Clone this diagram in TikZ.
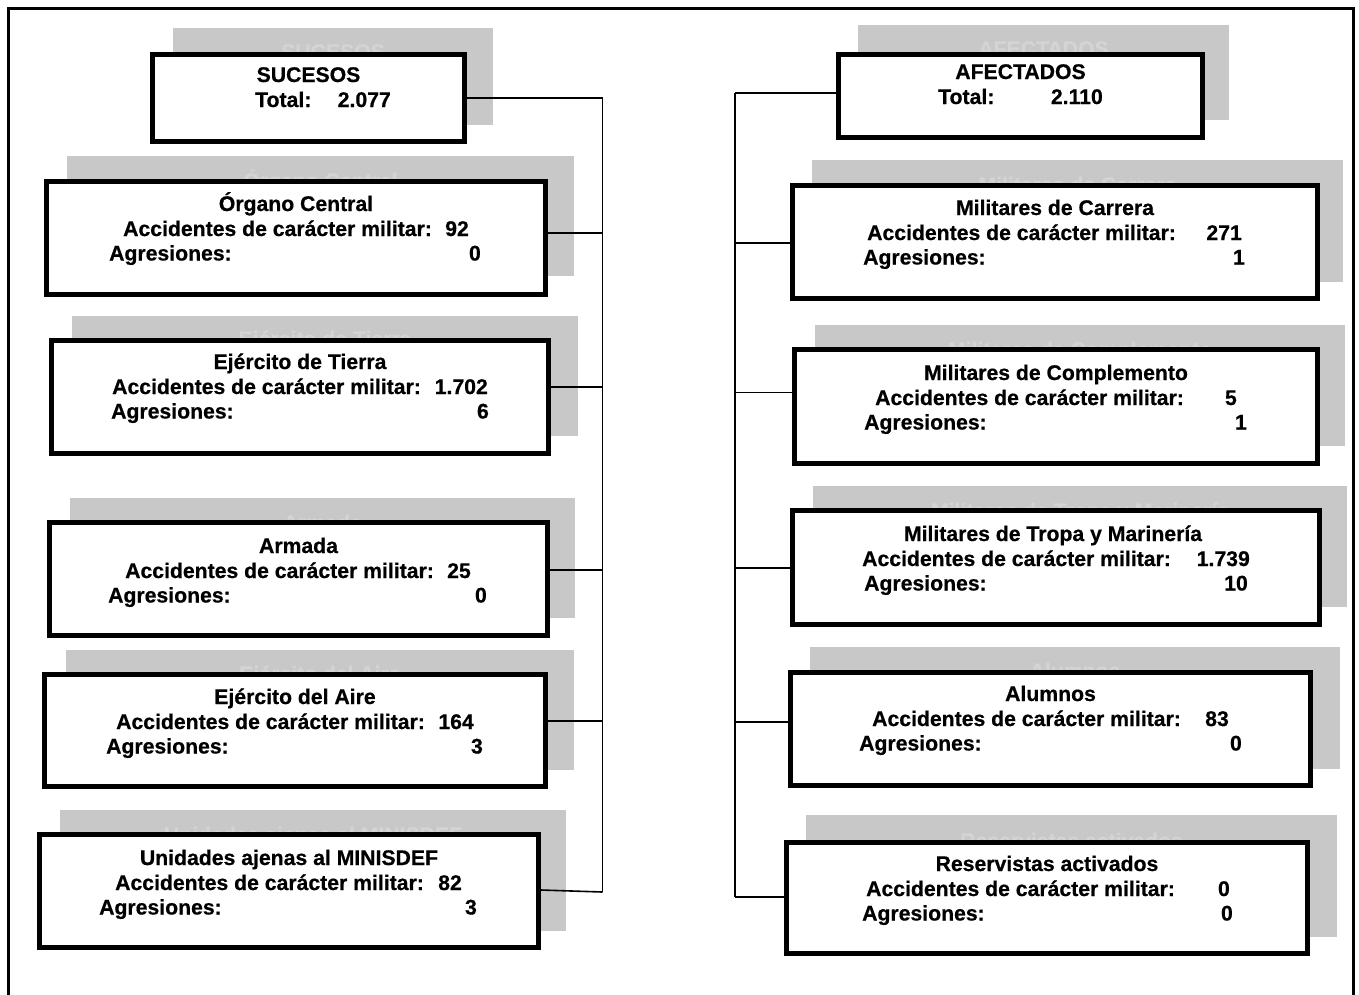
\documentclass[tikz,border=0pt]{standalone}
\usepackage{fontspec}
\setmainfont{Liberation Sans}[BoldFeatures={FakeBold=0.6}]
\definecolor{shadowc}{RGB}{200,200,200}
\definecolor{ghostc}{RGB}{212,212,212}
\newcommand\rows[8]{%
  \node[txt, anchor=base west] (#1-a) at (#3,#2+25) {Accidentes de carácter militar:};
  \node[txt, anchor=base east] (#1-an) at (#4,#2+25) {#5};
  \node[txt, anchor=base west] (#1-g) at (#6,#2+49.5) {Agresiones:};
  \node[txt, anchor=base east] (#1-gn) at (#7,#2+49.5) {#8};
}
\begin{document}
\begin{tikzpicture}[x=1pt,y=-1pt,
  mainbox/.style={draw=black, line width=5pt, fill=white, inner sep=0pt, outer sep=2.5pt},
  txt/.style={font=\fontsize{21.2}{25}\selectfont\bfseries, inner sep=0pt, anchor=base},
  ghost/.style={txt, text=ghostc},
  wire/.style={line width=1.6pt},
  frame/.style={line width=3pt}]
\useasboundingbox (0,0) rectangle (1359,994);
\fill[white] (0,0) rectangle (1359,994);
% outer frame
\coordinate (fbl) at (8.5,1000);
\coordinate (ftl) at (8.5,8.5);
\coordinate (ftr) at (1353.5,8.5);
\coordinate (fbr) at (1353.5,1000);
\draw[frame] (fbl) -- (ftl) -- (ftr) -- (fbr);

% ===== LEFT COLUMN =====
% SUCESOS
\fill[shadowc] (173,28) rectangle (493,125);
\node[ghost] (suc-gh) at (333,59) {SUCESOS};
\node[mainbox, minimum width=312pt, minimum height=87pt] (suc) at (308.5,98) {};
\node[txt] (suc-t) at (308.5,82) {SUCESOS};
\node[txt, anchor=base west] (suc-l) at (255,107) {Total:};
\node[txt, anchor=base east] (suc-n) at (391,107) {2.077};

% Organo Central
\fill[shadowc] (67,156) rectangle (574,276);
\node[ghost] (org-gh) at (320.5,188) {Órgano Central};
\node[mainbox, minimum width=499pt, minimum height=113pt] (org) at (296,238) {};
\node[txt] (org-t) at (296,211) {Órgano Central};
\rows{org}{211}{123}{469}{92}{109}{481}{0}

% Ejercito de Tierra
\fill[shadowc] (72,316) rectangle (578,436);
\node[ghost] (tie-gh) at (325,346) {Ejército de Tierra};
\node[mainbox, minimum width=497pt, minimum height=113pt] (tie) at (300,397) {};
\node[txt] (tie-t) at (300,369) {Ejército de Tierra};
\rows{tie}{369}{112}{488}{1.702}{111}{489}{6}

% Armada
\fill[shadowc] (70,498) rectangle (575,618);
\node[ghost] (arm-gh) at (322.5,530) {Armada};
\node[mainbox, minimum width=498pt, minimum height=113pt] (arm) at (298.5,579) {};
\node[txt] (arm-t) at (298.5,553) {Armada};
\rows{arm}{553}{125}{471}{25}{108}{487}{0}

% Ejercito del Aire
\fill[shadowc] (66,650) rectangle (574,770);
\node[ghost] (air-gh) at (320,681) {Ejército del Aire};
\node[mainbox, minimum width=501pt, minimum height=112pt] (air) at (295,730.5) {};
\node[txt] (air-t) at (295,704) {Ejército del Aire};
\rows{air}{704}{116}{474}{164}{106}{483}{3}

% Unidades ajenas
\fill[shadowc] (60,810) rectangle (566,931);
\node[ghost] (uni-gh) at (313,842) {Unidades ajenas al MINISDEF};
\node[mainbox, minimum width=499pt, minimum height=113pt] (uni) at (289,891) {};
\node[txt] (uni-t) at (289,865) {Unidades ajenas al MINISDEF};
\rows{uni}{865}{115}{462}{82}{99}{477}{3}

% left bus
\coordinate (lb1) at (602.5,98);
\coordinate (lb2) at (602.5,233);
\coordinate (lb3) at (602.5,387);
\coordinate (lb4) at (602.5,570);
\coordinate (lb5) at (602.5,721);
\coordinate (lb6) at (602.5,892);
\coordinate (ua) at (541,890);
\draw[wire] (lb1) -- (lb6);
\draw[wire] (suc.east |- lb1) -- (lb1);
\draw[wire] (org.east |- lb2) -- (lb2);
\draw[wire] (tie.east |- lb3) -- (lb3);
\draw[wire] (arm.east |- lb4) -- (lb4);
\draw[wire] (air.east |- lb5) -- (lb5);
\draw[wire] (uni.east |- ua) -- (lb6);

% ===== RIGHT COLUMN =====
% AFECTADOS
\fill[shadowc] (858,25) rectangle (1229,120);
\node[ghost] (afe-gh) at (1043.5,56) {AFECTADOS};
\node[mainbox, minimum width=364pt, minimum height=83pt] (afe) at (1020.5,96) {};
\node[txt] (afe-t) at (1020.5,79) {AFECTADOS};
\node[txt, anchor=base west] (afe-l) at (938,104) {Total:};
\node[txt, anchor=base east] (afe-n) at (1103,104) {2.110};

% Militares de Carrera
\fill[shadowc] (812,160) rectangle (1343,282);
\node[ghost] (car-gh) at (1077.5,192) {Militares de Carrera};
\node[mainbox, minimum width=525pt, minimum height=113pt] (car) at (1055,242) {};
\node[txt] (car-t) at (1055,215) {Militares de Carrera};
\rows{car}{215}{867}{1242}{271}{863}{1245}{1}

% Militares de Complemento
\fill[shadowc] (815,325) rectangle (1345,446);
\node[ghost] (com-gh) at (1080,357) {Militares de Complemento};
\node[mainbox, minimum width=523pt, minimum height=114pt] (com) at (1056,406.5) {};
\node[txt] (com-t) at (1056,380) {Militares de Complemento};
\rows{com}{380}{875}{1237}{5}{864}{1247}{1}

% Militares de Tropa y Marineria
\fill[shadowc] (813,486) rectangle (1347,607);
\node[ghost] (tro-gh) at (1080,518) {Militares de Tropa y Marinería};
\node[mainbox, minimum width=527pt, minimum height=114pt] (tro) at (1056,567.5) {};
\node[txt] (tro-t) at (1053,541) {Militares de Tropa y Marinería};
\rows{tro}{541}{862}{1250}{1.739}{864}{1248}{10}

% Alumnos
\fill[shadowc] (810,647) rectangle (1340,769);
\node[ghost] (alu-gh) at (1075,678) {Alumnos};
\node[mainbox, minimum width=520pt, minimum height=113pt] (alu) at (1050.5,729) {};
\node[txt] (alu-t) at (1050.5,701) {Alumnos};
\rows{alu}{701}{872}{1229}{83}{859}{1242}{0}

% Reservistas activados
\fill[shadowc] (806,815) rectangle (1337,937);
\node[ghost] (res-gh) at (1071.5,848) {Reservistas activados};
\node[mainbox, minimum width=521pt, minimum height=111pt] (res) at (1047,898) {};
\node[txt] (res-t) at (1047,871) {Reservistas activados};
\rows{res}{871}{866}{1230}{0}{862}{1233}{0}

% right bus
\coordinate (rb1) at (735,93);
\coordinate (rb2) at (735,243);
\coordinate (rb3) at (735,392.5);
\coordinate (rb4) at (735,568);
\coordinate (rb5) at (735,722);
\coordinate (rb6) at (735,897);
\draw[wire] (rb1) -- (rb6);
\draw[wire] (rb1) -- (afe.west |- rb1);
\draw[wire] (rb2) -- (car.west |- rb2);
\draw[wire] (rb3) -- (com.west |- rb3);
\draw[wire] (rb4) -- (tro.west |- rb4);
\draw[wire] (rb5) -- (alu.west |- rb5);
\draw[wire] (rb6) -- (res.west |- rb6);
\end{tikzpicture}
\end{document}
